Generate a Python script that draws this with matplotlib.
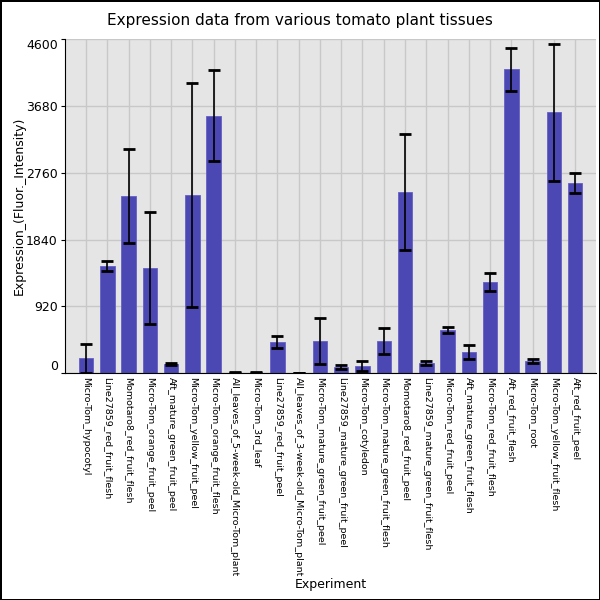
import matplotlib
matplotlib.use('Agg')
import matplotlib.pyplot as plt

# Tissue names and expression values
tissues = [
    'Micro-Tom_hypocotyl', 'Line27859_red_fruit_flesh', 'Momotaro8_red_fruit_flesh',
    'Micro-Tom_orange_fruit_peel', 'Aft_mature_green_fruit_peel', 'Micro-Tom_yellow_fruit_peel',
    'Micro-Tom_orange_fruit_flesh', 'All_leaves_of_5-week-old_Micro-Tom_plant', 'Micro-Tom_3rd_leaf',
    'Line27859_red_fruit_peel', 'All_leaves_of_3-week-old_Micro-Tom_plant',
    'Micro-Tom_mature_green_fruit_peel', 'Line27859_mature_green_fruit_peel', 'Micro-Tom_cotyledon',
    'Micro-Tom_mature_green_fruit_flesh', 'Momotaro8_red_fruit_peel',
    'Line27859_mature_green_fruit_flesh', 'Micro-Tom_red_fruit_peel', 'Aft_mature_green_fruit_flesh',
    'Micro-Tom_red_fruit_flesh', 'Aft_red_fruit_flesh', 'Micro-Tom_root',
    'Micro-Tom_yellow_fruit_flesh', 'Aft_red_fruit_peel',
]
expression = [205, 1475, 2440, 1445, 125, 2450, 3545, 8, 8, 428, 5,
              445, 85, 95, 445, 2495, 145, 600, 292, 1255, 4185, 167, 3590, 2620]
errors = [200, 70, 650, 772, 18, 1545, 623, 5, 5, 88, 4,
          312, 22, 70, 180, 800, 28, 40, 90, 120, 294, 25, 940, 138]
y_ticks = [0, 920, 1840, 2760, 3680, 4600]

fig = plt.figure(figsize=(6, 6), dpi=100, linewidth=1, edgecolor='black')
ax = fig.add_axes([0.108, 0.378, 0.886, 0.557])
ax.set_facecolor('#e5e5e5')

x = list(range(len(tissues)))
ax.bar(x, expression, width=0.68, color='#4b47b3', edgecolor='#6560c4', linewidth=0.6, zorder=2)
ax.errorbar(x, expression, yerr=errors, fmt='none', ecolor='black', elinewidth=1.2,
            capsize=4.6, capthick=2, zorder=3)

ax.set_xlim(-1, len(tissues))
ax.set_ylim(0, 4600)
ax.set_yticks(y_ticks)
ax.set_yticklabels([str(t) for t in y_ticks], fontsize=9)
labels = ax.get_yticklabels()
labels[0].set_va('bottom')
labels[-1].set_va('top')

ax.set_xticks(x)
ax.set_xticklabels(tissues, rotation=270, fontsize=6.8, va='top', ha='center')
ax.tick_params(axis='x', length=0, pad=3)
ax.tick_params(axis='y', length=3, pad=2)

ax.grid(True, color='#c8c8c8', linewidth=1, zorder=0)
ax.set_axisbelow(True)
for side in ['top', 'right']:
    ax.spines[side].set_visible(False)
ax.spines['left'].set_color('black')
ax.spines['bottom'].set_color('black')

fig.text(0.5, 0.966, 'Expression data from various tomato plant tissues', fontsize=11,
         ha='center', va='center')
ax.set_ylabel('Expression_(Fluor._Intensity)', fontsize=9, labelpad=0)
ax.set_xlabel('Experiment', fontsize=9)
ax.xaxis.set_label_coords(0.5, -0.612)

plt.savefig('out.png', dpi=100, edgecolor='black')
